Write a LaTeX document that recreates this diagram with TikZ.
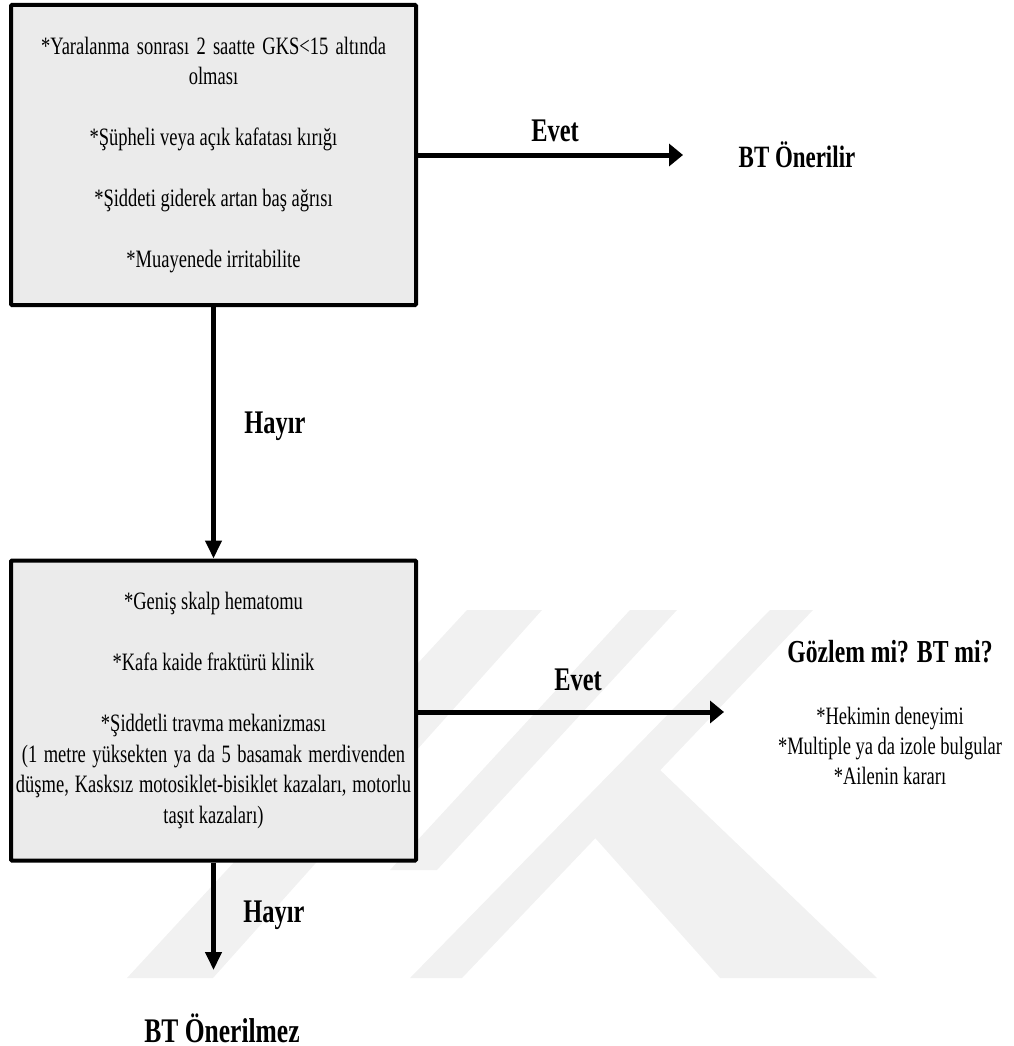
\documentclass[tikz,border=0pt]{standalone}
\usepackage{fontspec}
\setmainfont{Liberation Serif}[FakeStretch=0.74]
\usetikzlibrary{arrows.meta}
\definecolor{boxfill}{gray}{0.92}
\definecolor{wmark}{gray}{0.945}
\begin{document}
\begin{tikzpicture}[x=1pt,y=-1pt,
  box/.style={draw, line width=4pt, fill=boxfill, rounded corners=1pt,
    minimum width=405pt, minimum height=300pt, inner sep=0pt, align=center,
    font=\fontsize{25}{30.5}\selectfont},
  lbl/.style={font=\fontsize{33}{36}\selectfont\bfseries, inner sep=0pt, anchor=base},
  note/.style={font=\fontsize{25}{30}\selectfont, inner sep=0pt, align=center},
  harr/.style={line width=5pt, -{Triangle[length=14pt,width=22pt]}},
  varr/.style={line width=4.3pt, -{Triangle[length=18pt,width=16pt]}},
  wm/.style={fill=wmark, draw=none}
]
\useasboundingbox (0,0) rectangle (1013,1046);
% faint background watermark
\fill[wm] (467,610) -- (542,610) -- (213,978) -- (127,978) -- cycle;
\fill[wm] (630,610) -- (677,610) -- (437,870) -- (390,870) -- cycle;
\fill[wm] (770,610) -- (813,610) -- (462,978) -- (410,978) -- cycle;
\fill[wm] (657,767) -- (877,978) -- (720,978) -- (588,830) -- cycle;

\node[box] (b1) at (213.5,155) {\makebox[345pt][s]{*Yaralanma sonrası 2 saatte GKS<15 altında}\\olması\\[30.5pt]*Şüpheli veya açık kafatası kırığı\\[30.5pt]*Şiddeti giderek artan baş ağrısı\\[30.5pt]*Muayenede irritabilite};
\node[box] (b2) at (213.5,710.5) {*Geniş skalp hematomu\\[30.5pt]*Kafa kaide fraktürü klinik\\[30.5pt]*Şiddetli travma mekanizması\\\makebox[383pt][s]{(1 metre yüksekten ya da 5 basamak merdivenden}\\\makebox[395pt][s]{düşme, Kasksız motosiklet-bisiklet kazaları, motorlu}\\taşıt kazaları)};

\node[lbl, font=\fontsize{31}{34}\selectfont\bfseries] (r1) at (797,167) {BT Önerilir};
\node[lbl, font=\fontsize{32}{35}\selectfont\bfseries] (r2) at (890,662) {Gözlem mi? BT mi?};
\node[note, anchor=north] (r2n) at (890,707) {*Hekimin deneyimi\\*Multiple ya da izole bulgular\\*Ailenin kararı};
\node[lbl, font=\fontsize{34.5}{37}\selectfont\bfseries] (r3) at (222,1042) {BT Önerilmez};

\coordinate (t1) at (683,155);
\coordinate (t2) at (724,712);
\coordinate (t3) at (213.5,970);

\draw[harr] (b1.east) -- (t1);
\draw[varr] (b1.south) -- (b2.north);
\draw[harr] (b2.east |- t2) -- (t2);
\draw[varr] (b2.south) -- (t3);

\node[lbl] (e1) at (555,142) {Evet};
\node[lbl] (h1) at (275,433) {Hayır};
\node[lbl] (e2) at (578,690) {Evet};
\node[lbl] (h2) at (274,922) {Hayır};
\end{tikzpicture}
\end{document}
